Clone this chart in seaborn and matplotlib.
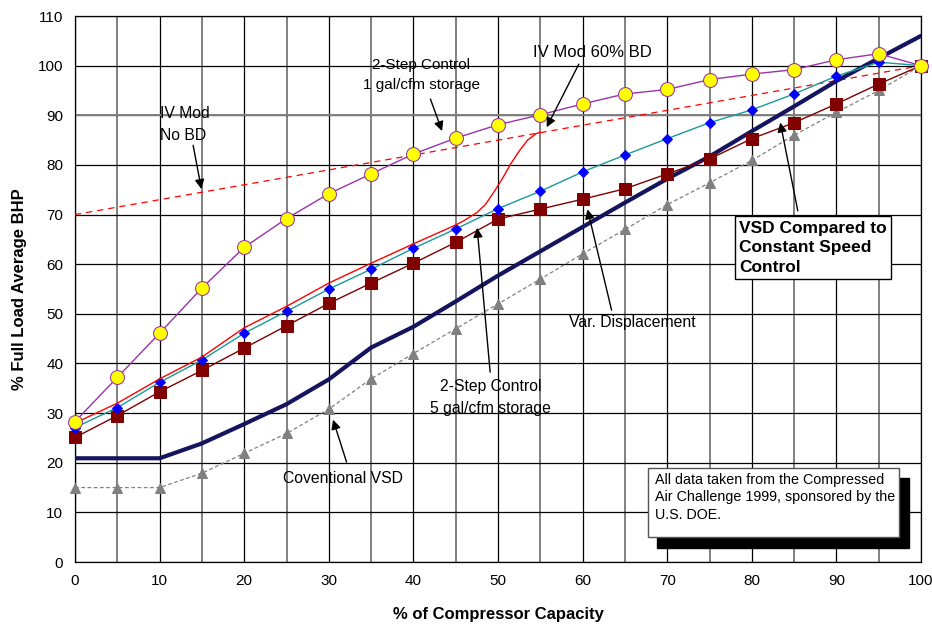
import numpy as np
import pandas as pd
import seaborn as sns
import matplotlib.pyplot as plt
from matplotlib.patches import Rectangle
from matplotlib.ticker import MultipleLocator

sns.set_style('white')
plt.rcParams['font.family'] = ['Liberation Sans', 'DejaVu Sans']
plt.rcParams['text.color'] = 'black'
plt.rcParams['axes.labelcolor'] = 'black'
plt.rcParams['xtick.color'] = 'black'
plt.rcParams['ytick.color'] = 'black'

# % of compressor capacity
capacity = [0, 5, 10, 15, 20, 25, 30, 35, 40, 45, 50, 55, 60, 65, 70, 75, 80, 85, 90, 95, 100]

# series
two_step_1gal = [28.3, 37.2, 46.1, 55.2, 63.4, 69.2, 74.2, 78.2, 82.2, 85.4, 88.1, 90.1, 92.3, 94.3,
                 95.2, 97.2, 98.3, 99.2, 101.2, 102.4, 100]
two_step_5gal = [27.1, 31.1, 36.2, 40.7, 46.1, 50.5, 55.0, 59.0, 63.2, 67.1, 71.2, 74.7, 78.6, 82.0,
                 85.3, 88.5, 91.1, 94.3, 97.9, 100.7, 100]
var_displacement = [25.1, 29.5, 34.3, 38.6, 43.1, 47.6, 52.1, 56.2, 60.2, 64.4, 69.1, 71.1, 73.1, 75.2,
                    78.2, 81.2, 85.3, 88.5, 92.3, 96.3, 100]
conventional_vsd = [15, 15, 15, 17.9, 21.9, 25.9, 30.8, 36.9, 42, 47, 52, 57, 62.1, 67, 72,
                    76.4, 80.9, 86, 90.6, 95, 100]
vsd_vs_constant = [20.9, 20.9, 20.9, 23.9, 27.8, 31.8, 36.8, 43.2, 47.4, 52.5, 57.7, 62.6, 67.5, 72.4,
                   77.2, 81.7, 86.8, 91.8, 96.9, 101.5, 106]

# IV Mod no blowdown (straight line)
iv_nobd_x = [0, 100]
iv_nobd_y = [70, 100]

# IV Mod 60% BD (smoothed curve)
iv60_x = [0, 5, 10, 15, 20, 25, 30, 35, 40, 45, 46, 47.5, 48.5, 49.5, 50.5, 51.5, 52.5, 53.5, 54.5, 55]
iv60_y = [28, 32, 36.9, 41.3, 47.2, 51.5, 56.2, 60.2, 64.1, 67.9, 68.8, 70.4, 72, 74.5, 77.2, 80.2,
          82.8, 85, 86.3, 86.6]

fig, ax = plt.subplots(figsize=(9.32, 6.26), dpi=100)
fig.subplots_adjust(left=0.0805, right=0.9882, bottom=0.1022, top=0.9744)

# grid: black on tens, thicker grey on fives
ax.set_xlim(0, 100)
ax.set_ylim(0, 110)
ax.xaxis.set_major_locator(MultipleLocator(10))
ax.xaxis.set_minor_locator(MultipleLocator(5))
ax.yaxis.set_major_locator(MultipleLocator(10))
ax.yaxis.set_minor_locator(MultipleLocator(5))
ax.grid(which='major', axis='both', color='black', lw=0.9)
ax.grid(which='minor', axis='x', color='#808080', lw=1.4)
ax.axhline(90, color='#808080', lw=1.4, zorder=0.6)
ax.set_axisbelow(True)
ax.tick_params(axis='both', which='major', direction='out', length=5, width=0.9, labelsize=11)
ax.tick_params(axis='x', which='minor', direction='out', length=5, width=0.9)
ax.tick_params(axis='y', which='minor', direction='in', length=3, width=0.9)
for s in ax.spines.values():
    s.set_color('black')
    s.set_linewidth(0.9)

sns.lineplot(x=iv_nobd_x, y=iv_nobd_y, ax=ax, color='#ff0000', lw=0.9, ls=(0, (5, 4)), zorder=3)
sns.lineplot(x=capacity, y=conventional_vsd, ax=ax, color='#808080', lw=0.9, ls=(0, (3, 2)),
             marker='^', markersize=7, markerfacecolor='#808080', markeredgecolor='#808080',
             clip_on=False, zorder=3)
sns.lineplot(x=capacity, y=vsd_vs_constant, ax=ax, color='#14145f', lw=3, zorder=4)
sns.lineplot(x=capacity, y=var_displacement, ax=ax, color='#800000', lw=1,
             marker='s', markersize=8.5, markerfacecolor='#800000', markeredgecolor='#800000',
             clip_on=False, zorder=5)
sns.lineplot(x=capacity, y=two_step_5gal, ax=ax, color='#1a9a9a', lw=1,
             marker='D', markersize=5, markerfacecolor='#0000ff', markeredgecolor='#0000ff',
             clip_on=False, zorder=5)
sns.lineplot(x=iv60_x, y=iv60_y, ax=ax, color='#ff0000', lw=1, sort=False, zorder=5)
sns.lineplot(x=capacity, y=two_step_1gal, ax=ax, color='#9933aa', lw=1,
             marker='o', markersize=10, markerfacecolor='#ffff00', markeredgecolor='#9933aa',
             clip_on=False, zorder=6)

ax.set_xlabel('% of Compressor Capacity', fontsize=12, fontweight='bold', labelpad=14)
ax.set_ylabel('% Full Load Average BHP', fontsize=12, fontweight='bold', labelpad=8)

arrow = dict(arrowstyle='-|>', color='black', lw=1, mutation_scale=14)

def label(text, pos, start, tip, ha='center', size=11.3):
    ax.text(pos[0], pos[1], text, fontsize=size, ha=ha, va='center', linespacing=1.55, zorder=10)
    ax.annotate('', xy=tip, xytext=start, arrowprops=arrow, zorder=10)

label('2-Step Control\n1 gal/cfm storage', (40.9, 98.2), (41.9, 93.8), (43.5, 86.3), size=11)
label('IV Mod\nNo BD', (10.0, 88.1), (13.9, 84.5), (15.0, 74.6), ha='left')
label('IV Mod 60% BD', (61.2, 102.6), (59.7, 100.8), (55.6, 87.1), size=12)
label('2-Step Control\n5 gal/cfm storage', (49.1, 33.1), (49.1, 37.7), (47.5, 67.9))
label('Var. Displacement', (58.4, 48.2), (63.5, 50.2), (60.5, 71.6), ha='left')
label('Coventional VSD', (24.6, 16.8), (32.2, 19.6), (30.4, 29.2), ha='left')

ax.text(78.5, 63.3, 'VSD Compared to\nConstant Speed\nControl', fontsize=12.5, fontweight='bold',
        ha='left', va='center', linespacing=1.4, zorder=10,
        bbox=dict(boxstyle='square,pad=0.25', fc='white', ec='black', lw=1))
ax.annotate('', xy=(83.3, 89.1), xytext=(85.5, 70.2), arrowprops=arrow, zorder=10)

# note box with drop shadow
ax.add_patch(Rectangle((68.8, 2.8), 29.8, 14.2, fc='black', ec='black', zorder=8))
ax.add_patch(Rectangle((67.7, 5.0), 29.7, 14.0, fc='white', ec='#555555', lw=1, zorder=9))
ax.text(68.6, 13.0, 'All data taken from the Compressed\nAir Challenge 1999, sponsored by the\nU.S. DOE.',
        fontsize=10.3, ha='left', va='center', linespacing=1.3, zorder=10)

plt.savefig('out.png', dpi=100)
